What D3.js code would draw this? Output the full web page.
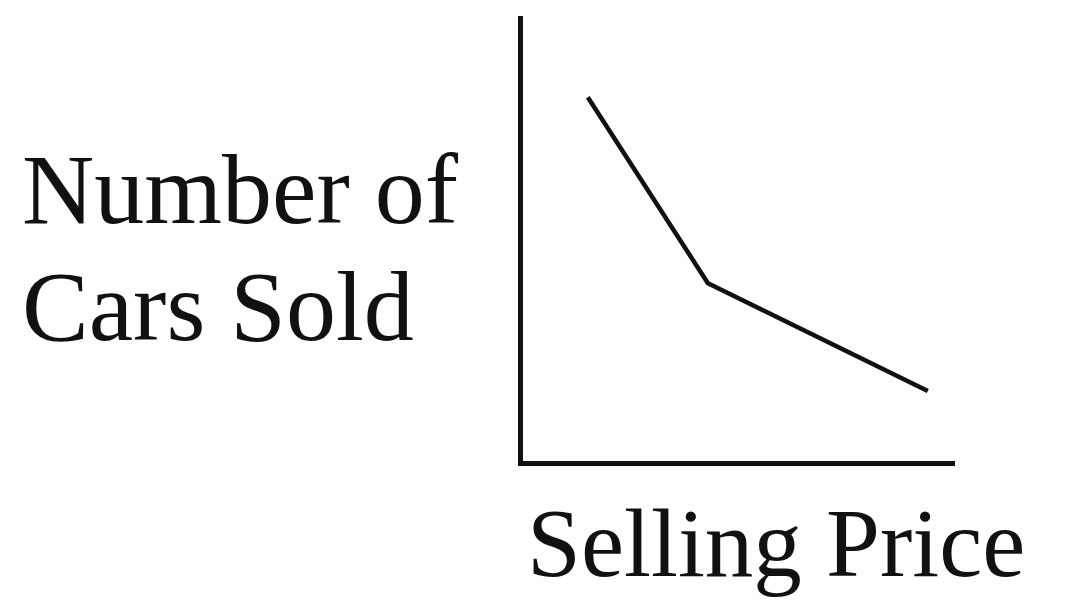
<!DOCTYPE html>
<html>
<head>
<meta charset="utf-8">
<script src="https://cdn.jsdelivr.net/npm/d3@7"></script>
<style>
  html, body { margin: 0; padding: 0; background: #fff; }
  svg { display: block; }
  text { font-family: "Liberation Serif", "Times New Roman", serif; fill: #111; }
</style>
</head>
<body>
<script>
// Data (arbitrary units, no scale shown on the original)
const sellingPrice = [15.7, 43.5, 94.4];
const carsSold = [82.2, 40.4, 16.2];
const yLabelLines = ["Number of", "Cars Sold"];
const xLabel = "Selling Price";

const W = 1079, H = 613;
const svg = d3.select("body").append("svg").attr("width", W).attr("height", H);

const x = d3.scaleLinear().domain([0, 100]).range([520, 952]);
const y = d3.scaleLinear().domain([0, 100]).range([463, 18]);

// Axes (no ticks)
const gx = svg.append("g").attr("transform", `translate(0,${y(0)})`)
  .call(d3.axisBottom(x).tickValues([]).tickSizeOuter(0));
const gy = svg.append("g").attr("transform", `translate(${x(0)},0)`)
  .call(d3.axisLeft(y).tickValues([]).tickSizeOuter(0));
[gx, gy].forEach(g => g.select(".domain").attr("stroke", "#111").attr("stroke-width", 5).attr("stroke-linecap", "square"));

// Line
const line = d3.line().x((d, i) => x(sellingPrice[i])).y((d, i) => y(carsSold[i]));
svg.append("path")
  .datum(sellingPrice)
  .attr("d", line)
  .attr("fill", "none")
  .attr("stroke", "#111")
  .attr("stroke-width", 4.5)
  .attr("stroke-linejoin", "round");

// Labels
svg.selectAll("text.ylab").data(yLabelLines).enter().append("text")
  .attr("class", "ylab")
  .attr("x", 22)
  .attr("y", (d, i) => 223 + i * 117)
  .attr("font-size", 100)
  .text(d => d);

svg.append("text")
  .attr("x", 527)
  .attr("y", 576)
  .attr("font-size", 97)
  .text(xLabel);
</script>
</body>
</html>
